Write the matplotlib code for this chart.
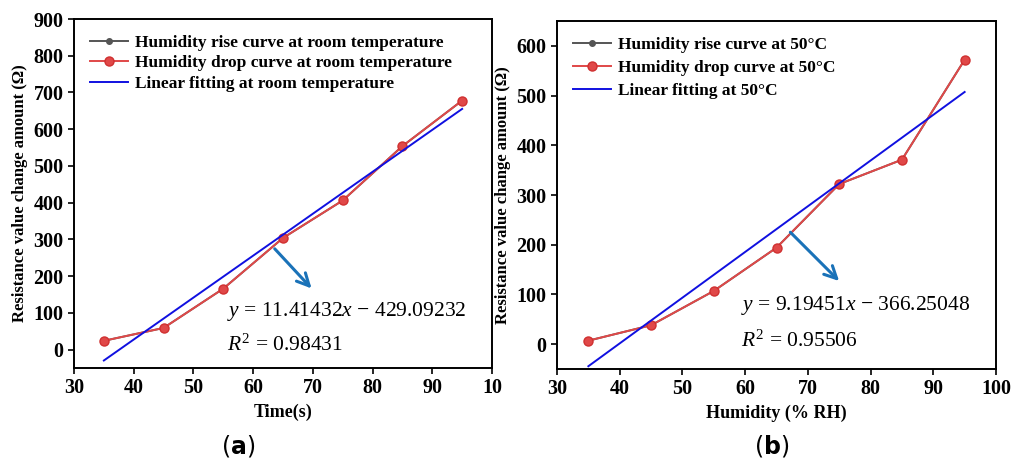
import numpy as np
import matplotlib
matplotlib.use("Agg")
import matplotlib.pyplot as plt

plt.rcParams["font.family"] = ["Liberation Serif", "DejaVu Serif"]
plt.rcParams["mathtext.fontset"] = "custom"
plt.rcParams["mathtext.rm"] = "Liberation Serif"
plt.rcParams["mathtext.it"] = "Liberation Serif:italic"

# humidity steps (% RH)
hum = [35, 45, 55, 65, 75, 85, 95]

# panel a: room temperature
rise_a = [24, 59, 166, 304, 406, 554, 678]
drop_a = [24, 59, 166, 304, 406, 554, 678]
k_a, b_a, r2_a = 11.41432, -429.09232, 0.98431

# panel b: 50 C
rise_b = [7, 38, 107, 194, 322, 371, 572]
drop_b = [7, 38, 107, 194, 322, 371, 572]
k_b, b_b, r2_b = 9.19451, -366.25048, 0.95506

_C_RISE = "#555555"
_C_DROP = "#e04848"
_C_FIT = "#1010e0"
_C_ARROW = "#1a72b8"


def draw_panel(ax, rise, drop, k, b, cond, xlabel, xticklabels, ylim, yticks,
               eq_xy, r2_xy, arrow, eq_txt, r2, spacing):
    x = np.array(hum, dtype=float)
    ax.plot(x, rise, "-o", color=_C_RISE, ms=4, lw=1.4,
            label=f"Humidity rise curve at {cond}")
    ax.plot(x, drop, "-o", color=_C_DROP, ms=6.5, lw=1.4, mec="#d03030",
            label=f"Humidity drop curve at {cond}")
    ax.plot(x, k * x + b, "-", color=_C_FIT, lw=1.4,
            label=f"Linear fitting at {cond}")
    ax.set_xlim(30, 100)
    ax.set_ylim(*ylim)
    ax.set_xticks(range(30, 101, 10))
    ax.set_xticklabels(xticklabels)
    ax.set_yticks(yticks)
    for lab in ax.get_xticklabels() + ax.get_yticklabels():
        lab.set_fontweight("bold")
        lab.set_fontsize(14.5)
    ax.tick_params(direction="out", length=4, width=1.2)
    for s in ax.spines.values():
        s.set_linewidth(1.4)
    ax.set_xlabel(xlabel, fontsize=13, fontweight="bold", labelpad=4)
    ax.set_ylabel("Resistance value change amount (Ω)", fontsize=12,
                  fontweight="bold", labelpad=4)
    ax.legend(loc="upper left", frameon=False,
              prop={"weight": "bold", "size": 12.5}, handlelength=2.2,
              handletextpad=0.4, labelspacing=spacing, borderaxespad=0.5)
    ax.annotate("", xy=arrow[1], xytext=arrow[0],
                arrowprops=dict(arrowstyle="->", color=_C_ARROW, lw=2.2,
                                mutation_scale=22))
    ax.text(*eq_xy, eq_txt, fontsize=15.5, va="center")
    ax.text(*r2_xy, rf"$R^2$ = {r2:.5f}", fontsize=15.5, va="center")


fig = plt.figure(figsize=(10.33, 4.65), dpi=100)
ax1 = fig.add_axes([74 / 1033, 1 - 368 / 465, 418 / 1033, 349 / 465])
ax2 = fig.add_axes([557 / 1033, 1 - 369 / 465, 439 / 1033, 348 / 465])

draw_panel(ax1, rise_a, drop_a, k_a, b_a, "room temperature", "Time(s)",
           ["30", "40", "50", "60", "70", "80", "90", "10"],
           (-50, 900), range(0, 901, 100),
           (55.6, 104), (55.6, 13), ((63.3, 280), (70.1, 161)),
           r"$y$ = 11.41432$x$ − 429.09232", r2_a, 0.25)
draw_panel(ax2, rise_b, drop_b, k_b, b_b, "50°C", "Humidity (% RH)",
           ["30", "40", "50", "60", "70", "80", "90", "100"],
           (-50, 650), range(0, 601, 100),
           (59.3, 78), (59.3, 6), ((66.9, 229), (75.3, 123)),
           r"$y$ = 9.19451$x$ − 366.25048", r2_b, 0.4)

fig.text(238 / 1033, 1 - 446 / 465, r"($\mathbf{a}$)", fontsize=17,
         ha="center", va="center", family="DejaVu Sans")
fig.text(772 / 1033, 1 - 446 / 465, r"($\mathbf{b}$)", fontsize=17,
         ha="center", va="center", family="DejaVu Sans")

fig.savefig("out.png", dpi=100)
